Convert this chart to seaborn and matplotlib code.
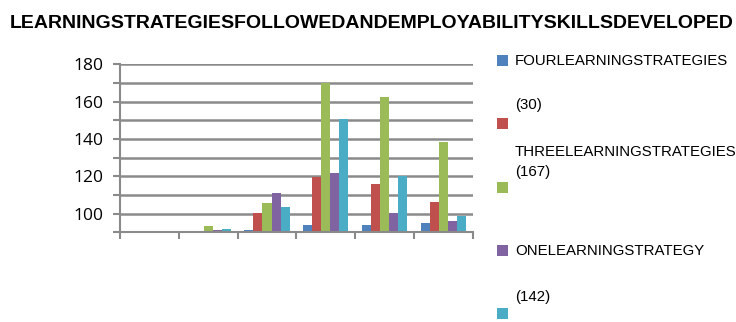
import matplotlib
matplotlib.use("Agg")

import pandas as pd
import matplotlib.pyplot as plt
import seaborn as sns
from matplotlib.patches import Rectangle

# ── Data ─────────────────────────────────────────────────────────────────────
groups = ["G1", "G2", "G3", "G4", "G5", "G6"]
series = ["four", "thirty", "three", "one", "onefortytwo"]
four_vals = [0, 0, 2, 8, 8, 10]
thirty_vals = [0, 1.8, 21, 59, 52, 32]
three_vals = [0, 6.7, 31, 160, 145, 97]
one_vals = [0, 3, 42, 64, 21, 12]
c142_vals = [0, 3.5, 27, 121, 60, 18]
colors = ["#4F81BD", "#C0504D", "#9BBB59", "#8064A2", "#4BACC6"]

ytick_values = [0, 20, 40, 60, 80, 100, 120, 140, 160, 180]
ytick_labels = ["", "100", "", "120", "", "140", "", "160", "", "180"]

title = "LEARNINGSTRATEGIESFOLLOWEDANDEMPLOYABILITYSKILLSDEVELOPED"
legend_texts = [
    ("FOURLEARNINGSTRATEGIES", 60.7),
    ("(30)", 105),
    ("THREELEARNINGSTRATEGIES", 151.7),
    ("(167)", 171.7),
    ("ONELEARNINGSTRATEGY", 250.7),
    ("(142)", 296.7),
]
legend_squares = [60.5, 123, 187.2, 250.8, 313.8]

df = pd.DataFrame({
    "group": groups * 5,
    "series": sum([[s] * len(groups) for s in series], []),
    "value": four_vals + thirty_vals + three_vals + one_vals + c142_vals,
})

# ── Figure ───────────────────────────────────────────────────────────────────
W, H = 736, 322
fig = plt.figure(figsize=(W / 100, H / 100), dpi=100)
ax = fig.add_axes([120 / W, 1 - 232.3 / H, (472.8 - 120) / W, (232.3 - 64.3) / H])

sns.barplot(data=df, x="group", y="value", hue="series", palette=colors,
            width=0.77, saturation=1, linewidth=0, legend=False, ax=ax)

grid_c = "#8a8a8a"
ax.set_ylim(0, 180)
ax.set_xlim(-0.5, len(groups) - 0.5)
ax.set_yticks(ytick_values)
ax.set_yticklabels(ytick_labels, fontsize=12.5, family=["Open Sans"])
ax.set_xticks([i - 0.5 for i in range(len(groups) + 1)])
ax.set_xticklabels([""] * (len(groups) + 1))
ax.set_xlabel("")
ax.set_ylabel("")
ax.tick_params(axis="y", length=5, width=1.5, color=grid_c, pad=7)
ax.tick_params(axis="x", length=5, width=1.5, color=grid_c)
ax.yaxis.grid(True, color=grid_c, linewidth=1.8)
ax.set_axisbelow(True)
for side in ["top", "right"]:
    ax.spines[side].set_visible(False)
for side in ["left", "bottom"]:
    ax.spines[side].set_color(grid_c)
    ax.spines[side].set_linewidth(1.5)

fig.text(10 / W, 1 - 23 / H, title, fontsize=14, fontweight="bold",
         family=["Liberation Sans"], va="center", ha="left")

for txt, y in legend_texts:
    fig.text(515 / W, 1 - y / H, txt, fontsize=10.8,
             family=["Liberation Sans"], va="center", ha="left")
for c, y in zip(colors, legend_squares):
    fig.add_artist(Rectangle((497.3 / W, 1 - (y + 5.5) / H), 11 / W, 11 / H,
                             transform=fig.transFigure, color=c, lw=0))

fig.savefig("out.png", dpi=100)
